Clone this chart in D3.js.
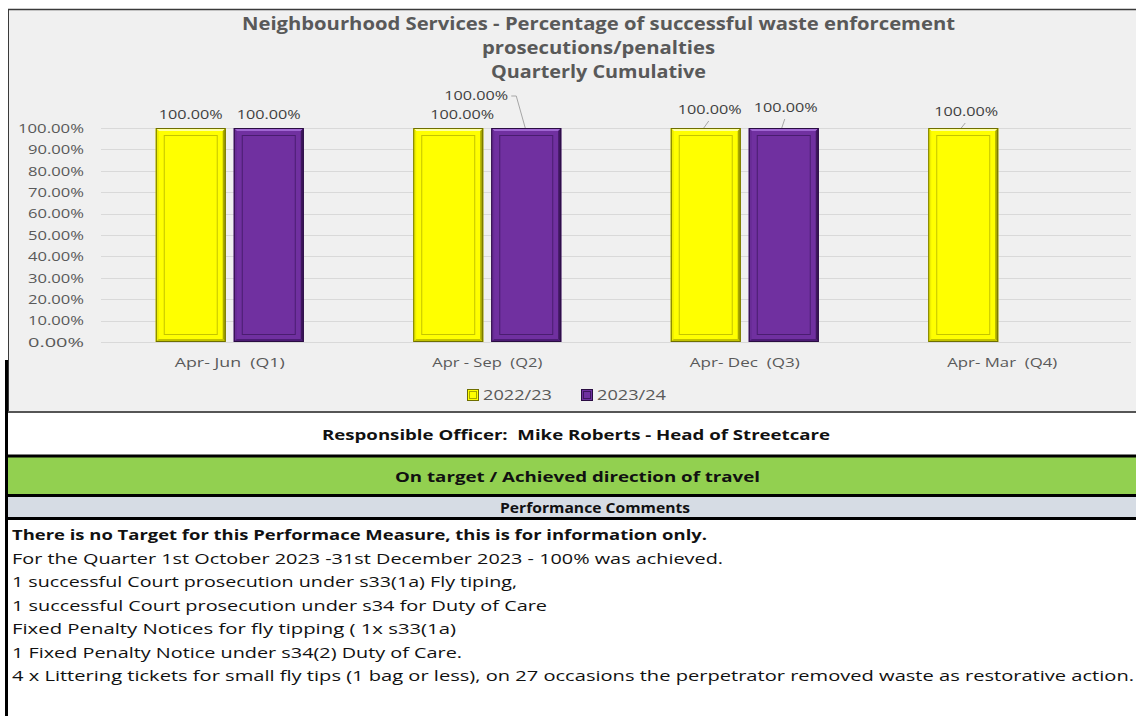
<!DOCTYPE html>
<html>
<head>
<meta charset="utf-8">
<script src="https://cdn.jsdelivr.net/npm/d3@7"></script>
<style>
  body { margin: 0; background: #fff; }
  svg { display: block; font-family: "Open Sans", sans-serif; }
</style>
</head>
<body>
<div id="chart"></div>
<script>
// chart values
var categories = ["Apr- Jun  (Q1)", "Apr - Sep  (Q2)", "Apr- Dec  (Q3)", "Apr- Mar  (Q4)"];
var seriesNames = ["2022/23", "2023/24"];
var values2022 = [100, 100, 100, 100];
var values2023 = [100, 100, 100, null];
var yTicks = [0, 10, 20, 30, 40, 50, 60, 70, 80, 90, 100];

var titleLines = [
  "Neighbourhood Services - Percentage of successful waste enforcement",
  "prosecutions/penalties",
  "Quarterly Cumulative"
];
var officerText = "Responsible Officer:  Mike Roberts - Head of Streetcare";
var statusText = "On target / Achieved direction of travel";
var commentsHeader = "Performance Comments";
var commentLines = [
  "There is no Target for this Performace Measure, this is for information only.",
  "For the Quarter 1st October 2023 -31st December 2023 - 100% was achieved.",
  "1 successful Court prosecution under s33(1a) Fly tiping,",
  "1 successful Court prosecution under s34 for Duty of Care",
  "Fixed Penalty Notices for fly tipping ( 1x s33(1a)",
  "1 Fixed Penalty Notice under s34(2) Duty of Care.",
  "4 x Littering tickets for small fly tips (1 bag or less), on 27 occasions the perpetrator removed waste as restorative action."
];

var W = 1136, H = 716;
var svg = d3.select("#chart").append("svg")
    .attr("width", W)
    .attr("height", H);

// stretch text horizontally to a given width (the source font is wide)
function fit(sel, w) {
  sel.attr("textLength", w).attr("lengthAdjust", "spacingAndGlyphs");
  return sel;
}

// chart box
svg.append("rect")
    .attr("x", 8).attr("y", 9)
    .attr("width", W - 8).attr("height", 403)
    .attr("fill", "#f0f0f0");
svg.append("line").attr("x1", 8).attr("x2", W).attr("y1", 9.5).attr("y2", 9.5)
    .attr("stroke", "#3a3a3a").attr("stroke-width", 1.5);
svg.append("line").attr("x1", 8.5).attr("x2", 8.5).attr("y1", 9).attr("y2", 412)
    .attr("stroke", "#3a3a3a").attr("stroke-width", 1);

// title
var titleLeft = [242, 482, 491], titleWidth = [713, 233, 215], titleBase = [30, 54, 78];
titleLines.forEach(function (t, i) {
  fit(svg.append("text")
      .attr("x", titleLeft[i]).attr("y", titleBase[i])
      .attr("font-size", 18).attr("font-weight", "bold")
      .attr("fill", "#595959")
      .text(t), titleWidth[i]);
});

// scales
var yScale = d3.scaleLinear().domain([0, 100]).range([342, 128]);
var x0 = d3.scaleBand().domain(categories).range([101, 1131]).padding(0);
var groupW = 148;
var x1 = d3.scaleBand().domain(seriesNames)
    .range([(x0.bandwidth() - groupW) / 2, (x0.bandwidth() + groupW) / 2])
    .paddingInner(0.103);

// gridlines
svg.append("g").selectAll("line").data(yTicks).enter().append("line")
    .attr("x1", 101).attr("x2", 1131)
    .attr("y1", function (d) { return Math.round(yScale(d)) + 0.5; })
    .attr("y2", function (d) { return Math.round(yScale(d)) + 0.5; })
    .attr("stroke", "#d9d9d9").attr("stroke-width", 1);

// y axis labels
var yAxis = d3.axisLeft(yScale).tickValues(yTicks).tickSize(0).tickPadding(0)
    .tickFormat(function (d) { return d.toFixed(2) + "%"; });
var yg = svg.append("g").attr("transform", "translate(84,0)").call(yAxis);
yg.select(".domain").remove();
yg.selectAll("text")
    .attr("font-family", "Open Sans").attr("font-size", 12)
    .attr("fill", "#595959")
    .attr("dy", "0.36em")
    .each(function (d) { fit(d3.select(this), d === 100 ? 66 : 56); });

// x axis labels
svg.append("g").selectAll("text").data(categories).enter().append("text")
    .attr("x", function (d) { return x0(d) + x0.bandwidth() / 2; })
    .attr("y", 367)
    .attr("text-anchor", "middle")
    .attr("font-size", 13)
    .attr("fill", "#595959")
    .attr("xml:space", "preserve")
    .style("white-space", "pre")
    .text(function (d) { return d; })
    .each(function () { fit(d3.select(this), 110); });

// bars with bevel
var palettes = {
  "2022/23": { base: "#ffff00", light: "#ffffa0", left: "#eeee00", right: "#a8a800", bottom: "#c2c200", line: "#c4c400", edge: "#6e6e00" },
  "2023/24": { base: "#7030a0", light: "#a066d2", left: "#682c96", right: "#3e165e", bottom: "#4c1c74", line: "#4a1d70", edge: "#2a0d42" }
};

function bevelBar(g, x, y, w, h, p) {
  var b = 3;
  g.append("rect").attr("x", x).attr("y", y).attr("width", w).attr("height", h).attr("fill", p.base);
  g.append("polygon").attr("points", [[x, y], [x + w, y], [x + w - b, y + b], [x + b, y + b]].join(" ")).attr("fill", p.light);
  g.append("polygon").attr("points", [[x, y], [x + b, y + b], [x + b, y + h - b], [x, y + h]].join(" ")).attr("fill", p.left);
  g.append("polygon").attr("points", [[x + w, y], [x + w, y + h], [x + w - b, y + h - b], [x + w - b, y + b]].join(" ")).attr("fill", p.right);
  g.append("polygon").attr("points", [[x, y + h], [x + w, y + h], [x + w - b, y + h - b], [x + b, y + h - b]].join(" ")).attr("fill", p.bottom);
  g.append("rect").attr("x", x + 8.5).attr("y", y + 7.5).attr("width", Math.max(0, w - 17)).attr("height", Math.max(0, h - 15))
      .attr("fill", "none").attr("stroke", p.line).attr("stroke-width", 1);
  g.append("rect").attr("x", x + 0.5).attr("y", y + 0.5).attr("width", w - 1).attr("height", h - 1)
      .attr("fill", "none").attr("stroke", p.edge).attr("stroke-width", 1);
}

var seriesValues = { "2022/23": values2022, "2023/24": values2023 };
var barsG = svg.append("g");
seriesNames.forEach(function (s) {
  seriesValues[s].forEach(function (v, i) {
    if (v === null) return;
    var x = x0(categories[i]) + x1(s);
    bevelBar(barsG, x, yScale(v), x1.bandwidth(), yScale(0) - yScale(v), palettes[s]);
  });
});

// data labels (offsets from bar top centre, leader style)
var labelNudge = {
  "2022/23": [[0, -9, 0], [14, -9, 0], [4, -14, 1], [3, -12, 1]],
  "2023/24": [[0, -9, 0], [-50, -28, 2], [2, -16, 1], null]
};
var labelsG = svg.append("g");
seriesNames.forEach(function (s) {
  seriesValues[s].forEach(function (v, i) {
    if (v === null) return;
    var n = labelNudge[s][i];
    var cx = x0(categories[i]) + x1(s) + x1.bandwidth() / 2;
    var top = yScale(v);
    var lx = cx + n[0], ly = top + n[1];
    fit(labelsG.append("text")
        .attr("x", lx).attr("y", ly)
        .attr("text-anchor", "middle")
        .attr("font-size", 12)
        .attr("fill", "#404040")
        .text(v.toFixed(2) + "%"), 64);
    var pts = null;
    if (n[2] === 1) pts = [[lx - 1, ly + 7], [cx - 2, top]];
    if (n[2] === 2) pts = [[lx + 35, ly - 4], [lx + 40, ly - 4], [cx - 1, top]];
    if (pts) {
      labelsG.append("path")
          .attr("d", d3.line()(pts))
          .attr("fill", "none").attr("stroke", "#a6a6a6").attr("stroke-width", 1);
    }
  });
});

// legend
var legendX = [467, 581];
var legend = svg.append("g");
seriesNames.forEach(function (s, i) {
  var p = palettes[s];
  legend.append("rect").attr("x", legendX[i] + 0.5).attr("y", 389.5).attr("width", 11).attr("height", 11)
      .attr("fill", p.base).attr("stroke", p.edge).attr("stroke-width", 1);
  legend.append("rect").attr("x", legendX[i] + 2.5).attr("y", 391.5).attr("width", 7).attr("height", 7)
      .attr("fill", "none").attr("stroke", p.right).attr("stroke-width", 1);
  fit(legend.append("text")
      .attr("x", legendX[i] + 16).attr("y", 400)
      .attr("font-size", 15)
      .attr("fill", "#595959")
      .text(s), 69);
});

// table below the chart
var table = svg.append("g");
table.append("rect").attr("x", 8).attr("y", 457).attr("width", W - 8).attr("height", 38).attr("fill", "#92d050");
table.append("rect").attr("x", 8).attr("y", 497).attr("width", W - 8).attr("height", 21).attr("fill", "#d6dce4");
table.append("line").attr("x1", 5).attr("x2", W).attr("y1", 412).attr("y2", 412).attr("stroke", "#555").attr("stroke-width", 2);
[456, 495.5, 518.5].forEach(function (y) {
  table.append("line").attr("x1", 5).attr("x2", W).attr("y1", y).attr("y2", y).attr("stroke", "#000").attr("stroke-width", 3);
});
table.append("line").attr("x1", 6.5).attr("x2", 6.5).attr("y1", 360).attr("y2", H).attr("stroke", "#000").attr("stroke-width", 3);

fit(table.append("text").attr("x", 322).attr("y", 440).attr("font-size", 15).attr("font-weight", "bold")
    .attr("fill", "#111").attr("xml:space", "preserve").style("white-space", "pre").text(officerText), 508);
fit(table.append("text").attr("x", 395).attr("y", 482).attr("font-size", 15).attr("font-weight", "bold")
    .attr("fill", "#111").text(statusText), 365);
fit(table.append("text").attr("x", 500).attr("y", 513).attr("font-size", 15).attr("font-weight", "bold")
    .attr("fill", "#111").text(commentsHeader), 190);

var commentRight = [707, 723, 517, 547, 456, 462, 1134];
commentLines.forEach(function (t, i) {
  fit(table.append("text")
      .attr("x", 12).attr("y", 540 + i * 23.5)
      .attr("font-size", 15)
      .attr("font-weight", i === 0 ? "bold" : "normal")
      .attr("fill", "#111")
      .attr("xml:space", "preserve").style("white-space", "pre")
      .text(t), commentRight[i] - 12);
});
</script>
</body>
</html>
